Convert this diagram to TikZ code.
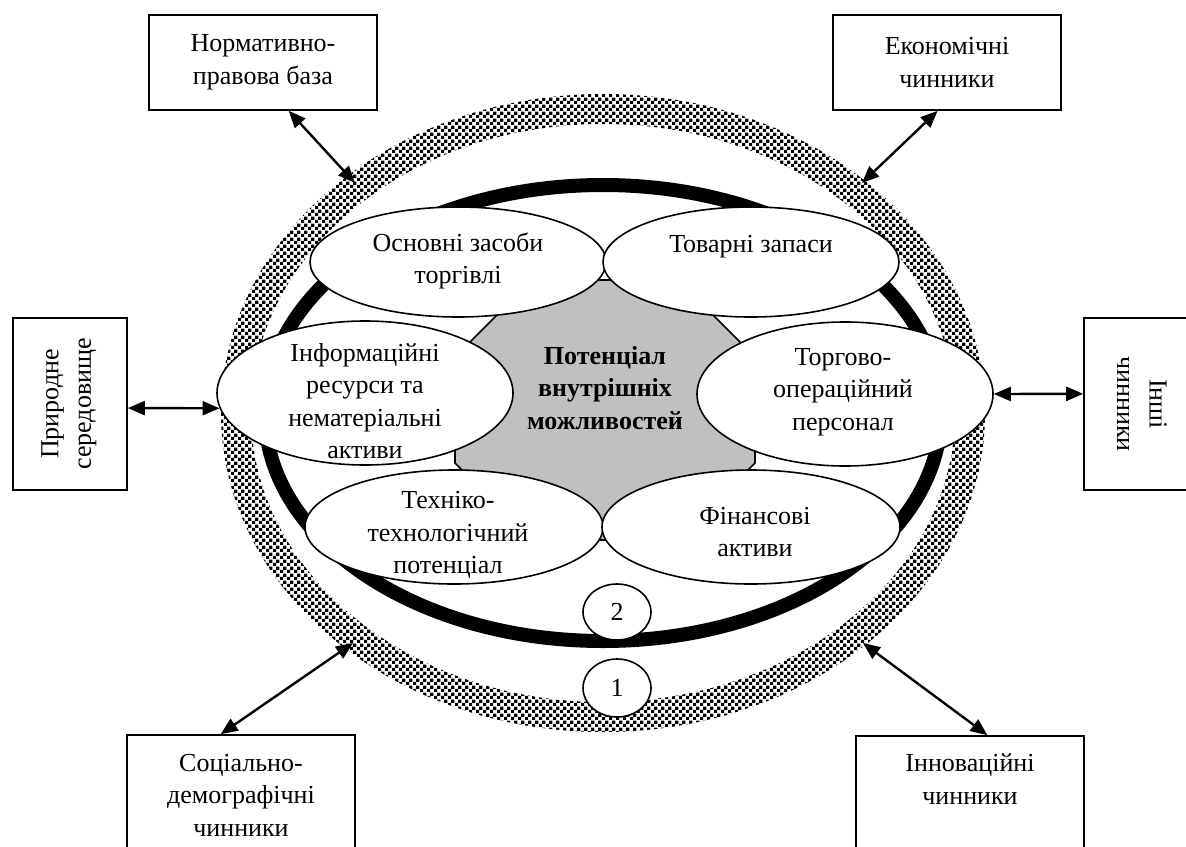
\documentclass[tikz,border=0pt]{standalone}
\usepackage{fontspec}
\setmainfont{Liberation Serif}
\usetikzlibrary{shapes.geometric,arrows.meta,patterns.meta}
\definecolor{grayc}{HTML}{C0C0C0}
\tikzdeclarepattern{
  name=chk,
  type=uncolored,
  bottom left={(0pt,0pt)},
  top right={(7pt,7pt)},
  tile size={(7pt,7pt)},
  code={
    \fill (0pt,0pt) rectangle (3.7pt,3.7pt);
    \fill (3.5pt,3.5pt) rectangle (7.2pt,7.2pt);
  }
}
\tikzset{
  box/.style={draw, line width=1.6pt, fill=white, minimum width=228pt, inner sep=0pt, align=center},
  ell/.style={draw, ellipse, line width=1.6pt, fill=white, inner sep=0pt},
  txt/.style={align=center, inner sep=0pt},
  link/.style={line width=2.4pt, {Triangle[length=17pt,width=14pt]}-{Triangle[length=17pt,width=14pt]}},
}
\begin{document}
\begin{tikzpicture}[x=1pt,y=-1pt, font=\fontsize{26pt}{32.5pt}\selectfont]
\useasboundingbox (0,0) rectangle (1186,846);
\clip (0,0) rectangle (1186,846);
% hatched outer ring
\fill[pattern=chk, even odd rule] (603,413) ellipse [x radius=382, y radius=319]
                                   (603,413) ellipse [x radius=352, y radius=289];
% black inner ring
\draw[line width=14pt] (603,413) ellipse [x radius=338, y radius=228];
% central octagon
\draw[line width=1.6pt, fill=grayc] (532,280) -- (678,280) -- (755,357) -- (755,463) -- (678,540) -- (532,540) -- (455,463) -- (455,357) -- cycle;
\node[txt, font=\fontsize{26pt}{32.5pt}\selectfont\bfseries] (pot) at (605,388) {Потенціал\\внутрішніх\\можливостей};
% inner ellipses
\node[ell, minimum width=296pt, minimum height=110pt] (os) at (458,262) {};
\node[txt] at (458,261) {Основні засоби\\торгівлі};
\node[ell, minimum width=296pt, minimum height=110pt] (tz) at (751,262) {};
\node[txt] at (751,247) {Товарні запаси};
\node[ell, minimum width=296pt, minimum height=144pt] (inf) at (365,393) {};
\node[txt] at (365,401) {Інформаційні\\ресурси та\\нематеріальні\\активи};
\node[ell, minimum width=296pt, minimum height=144pt] (tp) at (845,394) {};
\node[txt] at (843,392) {Торгово-\\операційний\\персонал};
\node[ell, minimum width=298pt, minimum height=114pt] (th) at (454,527) {};
\node[txt] at (448,535) {Техніко-\\технологічний\\потенціал};
\node[ell, minimum width=298pt, minimum height=114pt] (fa) at (751,527) {};
\node[txt] at (755,532) {Фінансові\\активи};
% numbered circles
\node[ell, minimum width=68pt, minimum height=56pt] (c2) at (617,612) {2};
\node[ell, minimum width=68pt, minimum height=58pt] (c1) at (617,688) {1};
% outer boxes
\node[box, minimum height=95pt] (nb) at (263,62.5) {Нормативно-\\правова база};
\node[box, minimum height=95pt] (eb) at (947,62.5) {Економічні\\чинники};
\node[box, minimum width=114pt, minimum height=172pt] (pb) at (70,404) {};
\node[txt, rotate=90] at (69,404) {Природне\\середовище};
\node[box, minimum width=114pt, minimum height=172pt] (ib) at (1141,404) {};
\node[txt, rotate=-90] at (1142,404) {Інші\\чинники};
\node[box, minimum height=150pt] (sb) at (241,810) {};
\node[txt] at (241,795) {Соціально-\\демографічні\\чинники};
\node[box, minimum height=150pt] (nv) at (970,811) {};
\node[txt] at (970,779) {Інноваційні\\чинники};
% ring contact points
\coordinate (r1) at (355,183);
\coordinate (r2) at (862,183);
\coordinate (r3) at (353,643);
\coordinate (r4) at (863,643);
% connectors
\draw[link] (nb.-62) -- (r1);
\draw[link] (eb.-101) -- (r2);
\draw[link] (pb.-4) -- (inf.186);
\draw[link] (tp.east) -- (ib.170);
\draw[link] (sb.105.6) -- (r3);
\draw[link] (nv.77) -- (r4);
\end{tikzpicture}
\end{document}
